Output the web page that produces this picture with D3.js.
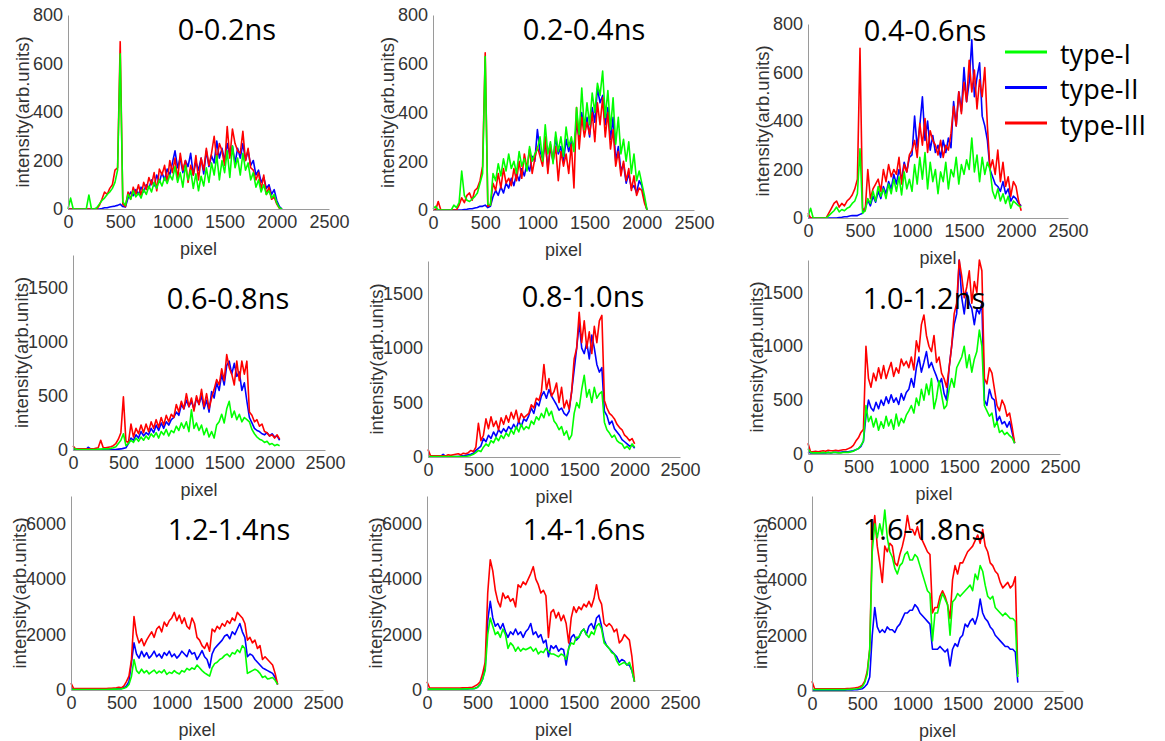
<!DOCTYPE html>
<html>
<head>
<meta charset="utf-8">
<script src="https://cdn.jsdelivr.net/npm/d3@7"></script>
<style>
  body { margin: 0; background: #fff; }
  .tick text { font-family: "Liberation Sans", Arial, sans-serif; font-size: 18px; fill: #333; }
  .domain { stroke: #9a9a9a; }
</style>
</head>
<body>
<div id="chart"></div>
<script>
// detector pixel grid (x values shared by every series)
const pixels = [0,25,50,75,100,125,150,175,200,225,250,275,300,325,350,375,400,425,450,475,
  500,525,550,575,600,625,650,675,700,725,750,775,800,825,850,875,900,925,950,975,
  1000,1025,1050,1075,1100,1125,1150,1175,1200,1225,1250,1275,1300,1325,1350,1375,1400,1425,1450,1475,
  1500,1525,1550,1575,1600,1625,1650,1675,1700,1725,1750,1775,1800,1825,1850,1875,1900,1925,1950,1975,
  2000,2025,2050];

const titles = ["0-0.2ns","0.2-0.4ns","0.4-0.6ns","0.6-0.8ns","0.8-1.0ns","1.0-1.2ns","1.2-1.4ns","1.4-1.6ns","1.6-1.8ns"];
const seriesNames = ["type-I","type-II","type-III"];
const seriesColors = ["#00ff00","#0000ff","#ff0000"];
const xTicks = [0,500,1000,1500,2000,2500];
const yTicksRow1 = [0,200,400,600,800];
const yTicksRow2 = [0,500,1000,1500];
const yTicksRow3 = [0,2000,4000,6000];
const yMaxRows = [800,1800,7000];

// 0-0.2ns
const p1I = [0,45,0,0,0,0,0,0,58,0, 0,5,20,35,45,60,70,85,110,160,
  640,30,15,60,40,75,50,65,45,80, 60,95,70,110,85,120,95,130,105,140,
  120,175,110,150,90,180,120,160,85,145, 75,135,95,170,110,190,140,220,120,200,
  150,240,130,260,170,210,140,230,160,190, 120,150,90,120,70,100,60,75,45,60, 25,5,0];
const p1II = [0,0,0,0,0,0,0,0,0,0, 0,0,0,2,5,5,8,10,12,15,
  20,10,8,45,70,55,80,60,90,70, 100,85,120,95,140,110,150,120,165,140,
  190,240,170,210,150,200,175,230,140,195, 160,210,145,240,175,220,190,280,210,250,
  200,270,220,260,190,250,210,270,200,240, 180,200,140,160,110,130,85,100,60,80, 35,10,0];
const p1III = [0,0,0,0,0,0,0,0,0,0, 0,0,15,40,70,60,85,100,160,170,
  690,20,10,70,40,90,60,100,55,110, 80,130,100,150,75,165,140,180,110,200,
  150,210,120,230,160,200,110,180,140,220, 120,210,160,250,180,230,300,200,270,240,
  180,340,210,330,270,240,230,320,200,250, 170,160,120,150,80,140,60,90,40,50, 20,3,0];

// 0.2-0.4ns
const p2I = [5,15,0,0,0,0,0,0,20,10, 30,160,60,40,35,45,55,70,110,150,
  630,25,20,150,120,190,140,210,160,230, 170,200,150,240,180,210,160,260,200,230,
  250,300,200,350,230,280,190,320,240,300, 220,340,260,300,240,420,310,500,330,440,
  350,480,400,520,470,570,380,490,330,460, 270,380,230,290,200,280,150,230,120,160, 110,60,0];
const p2II = [0,0,0,0,0,0,0,0,0,0, 0,0,2,3,5,5,8,10,15,15,
  20,10,15,55,80,60,95,70,110,90, 130,100,150,120,170,140,190,160,220,200,
  330,240,210,280,170,260,200,300,230,260, 200,290,240,280,260,350,300,400,330,380,
  300,420,360,500,440,470,350,420,290,380, 200,260,160,190,110,150,90,100,70,120, 100,40,0];
const p2III = [0,0,35,0,0,0,0,0,0,0, 20,50,30,60,70,40,80,90,120,180,
  645,15,20,110,80,150,90,170,110,130, 100,170,120,200,130,230,170,250,150,210,
  260,220,180,300,150,270,200,260,120,240, 180,230,150,270,90,420,250,380,300,360,
  310,400,280,440,350,460,300,400,250,330, 180,240,140,200,120,170,80,140,60,90, 80,30,0];

// 0.4-0.6ns
const p3I = [5,40,0,0,0,0,0,0,10,20, 30,45,25,35,30,40,45,60,70,100,
  285,20,30,80,60,110,70,130,90,120, 80,140,100,160,110,170,95,190,120,160,
  110,220,140,250,160,270,120,230,150,200, 100,190,150,230,120,200,170,250,140,220,
  180,240,200,330,190,260,150,250,180,230, 200,110,80,120,70,100,60,90,40,70, 60,50,45];
const p3II = [0,0,0,0,0,0,0,0,0,0, 0,0,2,3,5,5,8,10,10,10,
  15,20,40,75,50,90,65,110,80,130, 100,150,120,180,140,200,160,230,190,250,
  260,420,290,380,500,320,400,280,340,270, 300,250,320,270,330,290,480,380,520,440,
  620,480,560,735,500,580,640,420,380,320, 200,170,140,130,110,150,100,120,70,90, 80,60,50];
const p3III = [20,0,0,0,0,0,0,0,20,40, 60,70,45,60,50,70,80,95,120,160,
  700,40,30,200,80,120,140,160,110,200, 150,220,170,200,180,250,140,220,190,260,
  280,320,250,390,300,410,270,360,320,300, 260,320,250,300,280,350,460,380,520,430,
  560,480,650,520,610,450,570,500,620,380, 200,240,180,280,150,230,130,170,90,150, 130,70,30];

// 0.6-0.8ns
const p4I = [15,10,5,5,5,5,5,5,5,5, 8,8,10,10,10,15,20,30,60,90,
  150,40,60,90,70,110,80,120,90,130, 100,150,120,160,110,170,140,190,130,180,
  160,220,180,250,200,260,170,370,200,250, 180,230,140,200,120,170,110,230,260,330,
  250,380,450,300,360,280,330,260,300,280, 260,190,150,120,100,90,70,80,50,60, 40,50,40];
const p4II = [5,0,0,0,0,0,25,10,5,5, 5,5,5,5,5,5,5,5,8,10,
  15,20,60,110,90,140,110,170,130,160, 140,200,160,230,180,250,200,260,230,280,
  300,350,320,420,380,460,400,450,380,480, 420,500,380,460,350,540,480,620,550,700,
  600,780,820,700,800,680,720,550,620,450, 300,250,200,180,170,150,140,160,130,150, 120,130,90];
const p4III = [40,10,10,10,10,10,10,10,10,15, 20,90,20,20,25,30,40,60,100,160,
  490,80,70,240,120,200,150,230,160,240, 170,260,200,280,210,300,230,320,260,330,
  300,420,350,450,380,520,400,480,360,500, 420,560,400,520,380,480,560,650,600,750,
  640,880,760,700,600,820,640,820,700,820, 350,320,260,280,220,240,170,160,130,140, 110,140,100];

// 0.8-1.0ns
const p5I = [5,5,5,5,5,5,5,5,5,5, 5,5,5,5,5,5,10,15,25,40,
  60,50,90,120,100,150,130,180,150,200, 170,220,190,250,210,280,230,300,250,280,
  260,330,300,370,340,400,360,450,380,420, 330,300,250,280,200,240,160,200,400,500,
  450,620,750,550,620,500,640,540,580,600, 320,250,220,180,200,150,130,120,80,100, 70,120,90];
const p5II = [5,5,5,5,5,5,25,5,5,5, 5,5,5,10,10,15,20,25,35,60,
  80,100,170,140,200,170,230,190,250,220, 260,230,280,250,300,260,330,280,350,330,
  380,450,400,500,470,560,600,540,620,560, 520,480,430,450,400,380,420,600,800,1000,
  1230,1000,950,1050,900,1120,1000,850,780,820, 420,380,300,330,260,230,200,160,140,120, 100,110,80];
const p5III = [70,10,10,10,10,10,10,10,20,15, 20,25,30,20,35,30,40,60,50,90,
  310,150,200,350,260,370,280,330,250,360, 300,380,320,410,350,430,320,400,360,380,
  400,480,450,540,520,600,850,620,720,560, 600,680,500,640,450,520,440,600,900,1000,
  1330,1050,1250,1000,1150,950,1200,1050,1250,1300, 520,450,400,380,350,300,270,250,200,180, 150,170,120];

// 1.0-1.2ns
const p6I = [50,15,10,10,10,10,15,10,15,10, 15,15,10,10,15,15,15,20,25,40,
  50,80,120,450,300,350,250,330,220,300, 240,350,260,320,230,370,260,330,290,360,
  400,450,380,520,450,600,500,650,550,700, 420,520,680,550,420,450,600,700,620,800,
  850,900,1000,800,920,760,880,950,1150,1000, 450,400,350,380,250,300,200,220,180,200, 170,150,100];
const p6II = [20,10,10,10,10,10,10,10,15,10, 15,15,15,15,20,20,20,25,30,40,
  50,70,120,350,500,430,400,480,420,500, 450,530,470,550,480,520,460,560,500,570,
  600,700,620,800,900,760,850,950,800,850, 780,720,650,700,560,500,800,1000,1200,1300,
  1800,1450,1300,1500,1400,1350,1200,1350,1300,1400, 500,450,600,520,500,300,350,280,300,250, 300,200,100];
const p6III = [100,20,20,25,20,25,30,25,35,30, 30,35,30,35,40,40,50,60,80,120,
  150,200,230,1000,700,620,750,680,800,700, 820,700,780,850,720,800,750,880,820,860,
  800,900,780,1050,950,1200,1290,1100,1000,950, 1100,850,900,750,700,620,800,1000,1300,1400,
  1800,1650,1450,1550,1700,1400,1600,1500,1800,1700, 700,650,800,750,600,450,400,500,450,350, 380,250,100];

// 1.2-1.4ns
const p7I = [30,20,20,20,20,20,20,20,20,20, 20,20,20,20,20,25,25,30,30,35,
  40,60,100,200,500,1100,700,600,750,620, 700,580,650,720,600,680,620,730,560,640,
  600,700,620,580,700,650,780,720,800,750, 900,800,700,620,560,500,800,950,1000,1100,
  1150,1250,1300,1200,1350,1300,1450,1350,1600,1500, 600,650,700,750,700,600,450,500,400,420, 450,350,200];
const p7II = [40,30,30,30,30,30,30,30,30,30, 30,30,30,30,35,35,40,40,45,50,
  50,80,150,300,1000,1700,1300,1150,1400,1200, 1350,1150,1250,1400,1200,1300,1150,1350,1250,1400,
  1200,1300,1150,1250,1400,1300,1200,1450,1300,1350, 1100,1250,1420,1200,1100,800,1300,1500,1600,1700,
  1800,1950,2000,1850,2100,2000,2200,2400,2100,1900, 1200,1300,1250,1100,1000,900,800,750,700,650, 600,450,200];
const p7III = [250,60,50,50,50,50,50,50,50,50, 50,50,50,50,55,60,60,70,80,100,
  80,150,300,500,1100,2650,2000,1700,1850,1600, 1800,1950,2100,1900,2200,2300,2100,2450,2300,2500,
  2600,2800,2500,2700,2400,2600,2300,2200,2600,2400, 1900,1800,1600,1500,1700,1400,2200,2100,2300,2200,
  2400,2300,2500,2400,2600,2500,2800,2700,2600,2400, 1800,1900,1700,1800,1500,1600,1100,1200,1100,1000, 900,600,200];

// 1.4-1.6ns
const p8I = [40,30,30,30,30,30,30,30,30,30, 30,30,30,30,35,40,40,45,50,60,
  100,200,400,700,2000,2600,2300,2000,2100,1900, 2200,2000,1500,1700,1600,1400,1550,1400,1500,1450,
  1500,1550,1400,1500,1300,1400,1350,1500,1400,1300, 1300,1250,1200,1300,1250,1100,1500,1700,1650,1900,
  1900,2100,2200,2000,1900,2100,2000,2300,2400,2200, 1700,1600,1500,1350,1300,1050,900,950,1000,900, 1000,700,300];
const p8II = [40,30,30,30,30,30,30,30,30,30, 30,30,30,30,35,40,40,45,50,60,
  100,200,400,800,2500,3200,2600,2300,2400,2200, 2400,2100,1900,2100,2000,2200,2000,2100,1900,2100,
  2200,2400,2000,2100,1900,2000,1700,1800,1200,1600, 1500,1600,1400,1500,1450,900,1500,1900,2000,1800,
  1900,2100,2200,2000,2300,2400,2200,2600,2700,2300, 1800,1600,1500,1400,1300,1200,1000,1100,1050,900, 900,700,300];
const p8III = [300,80,70,70,70,70,70,70,70,70, 70,70,70,70,75,80,80,90,100,150,
  200,300,600,1000,3500,4700,4300,3600,3200,3000, 3500,3300,3400,3200,3300,3000,3800,3700,3900,3800,
  4000,4200,4450,4000,3800,3500,3600,3400,1900,2800, 2900,2600,2800,2500,2700,2400,1700,2600,3000,2800,
  3000,2900,3100,3000,3200,3000,3300,3800,3300,3100, 2400,2300,2400,2300,2100,2200,1700,1800,2000,1900, 1800,1200,300];

// 1.6-1.8ns
const p9I = [60,50,50,50,50,50,50,50,50,50, 50,50,50,50,55,60,60,70,80,100,
  150,300,600,1500,5000,6000,5500,6000,5600,6500, 5500,5000,4800,4400,4200,4500,4600,4900,5000,4700,
  4700,4900,4800,4500,4200,3900,3600,3500,1800,2800, 2800,3200,3500,3300,3100,2000,3200,3300,3500,3400,
  3500,3600,3700,3800,3600,4200,4000,4500,4300,3800, 3400,3300,3400,3000,2900,2800,2700,2800,2700,2600, 2600,2500,500];
const p9II = [40,30,30,30,30,30,30,30,30,30, 30,30,30,30,35,40,40,45,50,60,
  80,150,250,500,2000,3000,2300,2100,2200,2100, 2300,2200,2200,2100,2300,2400,2600,2800,2800,2900,
  2900,3100,3000,2800,2700,2600,2500,2400,1500,1500, 1500,1600,1500,1400,1500,900,1500,1700,1600,1900,
  2000,2400,2300,2500,2600,2400,2700,3300,2800,2600, 2500,2300,2200,2000,1900,1800,1700,1600,1600,1500, 1500,1400,300];
const p9III = [350,90,80,80,80,80,80,80,80,80, 80,80,80,80,85,90,100,110,120,150,
  200,350,700,1500,5500,6300,5200,4600,3900,5200, 5000,5300,5200,4600,4500,4900,5200,5600,6300,5800,
  5800,5600,5900,5500,5400,5200,5000,4900,2800,3000, 3000,3400,3600,3400,3100,2600,4000,4500,4200,4600,
  4600,4800,5000,5100,5200,5400,5600,5300,5800,5200, 5000,4600,4500,4300,4200,3900,3700,3800,3900,3700, 3800,4100,600];

const panelSeries = [
  [p1I, p1II, p1III], [p2I, p2II, p2III], [p3I, p3II, p3III],
  [p4I, p4II, p4III], [p5I, p5II, p5III], [p6I, p6II, p6III],
  [p7I, p7II, p7III], [p8I, p8II, p8III], [p9I, p9II, p9III]
];
const rowTicks = [yTicksRow1, yTicksRow2, yTicksRow3];

// axes boxes in page pixels: left/right = x 0..2500, bottom/top = y 0..yMax
const boxes = [
  {left: 68,  right: 329,  bottom: 209, top: 15,  tx: 227, ty: 28},
  {left: 433, right: 694,  bottom: 210, top: 15,  tx: 584, ty: 28},
  {left: 808, right: 1068, bottom: 218, top: 24,  tx: 925, ty: 29},
  {left: 73,  right: 325,  bottom: 450, top: 255, tx: 228, ty: 297},
  {left: 428, right: 680,  bottom: 457, top: 261, tx: 583, ty: 295},
  {left: 808, right: 1060, bottom: 454, top: 260, tx: 924, ty: 297},
  {left: 71,  right: 323,  bottom: 690, top: 496, tx: 229, ty: 528},
  {left: 427, right: 680,  bottom: 690, top: 496, tx: 584, ty: 528},
  {left: 812, right: 1063, bottom: 691, top: 496, tx: 924, ty: 528}
];

const svg = d3.select("#chart").append("svg")
  .attr("width", 1165)
  .attr("height", 741);

const drawOrder = [1, 2, 0]; // blue, red, then green on top
const labelFont = '"Liberation Sans", Arial, sans-serif';

boxes.forEach((b, i) => {
  const row = Math.floor(i / 3);
  const x = d3.scaleLinear().domain([0, 2500]).range([b.left, b.right]);
  const y = d3.scaleLinear().domain([0, yMaxRows[row]]).range([b.bottom, b.top]);
  const g = svg.append("g");

  const line = d3.line()
    .x((d, k) => x(pixels[k]))
    .y(d => y(d));

  drawOrder.forEach(s => {
    g.append("path")
      .datum(panelSeries[i][s])
      .attr("d", line)
      .attr("fill", "none")
      .attr("stroke", seriesColors[s])
      .attr("stroke-width", 1.6)
      .attr("stroke-linejoin", "round");
  });

  g.append("g")
    .attr("transform", `translate(0,${b.bottom})`)
    .call(d3.axisBottom(x).tickValues(xTicks).tickFormat(d3.format("d")).tickSize(0).tickPadding(6));

  g.append("g")
    .attr("transform", `translate(${b.left},0)`)
    .call(d3.axisLeft(y).tickValues(rowTicks[row]).tickFormat(d3.format("d")).tickSize(0).tickPadding(5));

  g.append("text")
    .attr("x", (b.left + b.right) / 2)
    .attr("y", b.bottom + 40)
    .attr("text-anchor", "middle")
    .attr("dominant-baseline", "central")
    .style("font-family", labelFont)
    .style("font-size", "18px")
    .style("fill", "#333")
    .text("pixel");

  const off = row === 0 ? 46 : 52;
  g.append("text")
    .attr("transform", `translate(${b.left - off},${(b.top + b.bottom) / 2}) rotate(-90)`)
    .attr("text-anchor", "middle")
    .attr("dominant-baseline", "central")
    .style("font-family", labelFont)
    .style("font-size", "18.5px")
    .style("fill", "#333")
    .text("intensity(arb.units)");

  g.append("text")
    .attr("x", b.tx)
    .attr("y", b.ty)
    .attr("text-anchor", "middle")
    .attr("dominant-baseline", "central")
    .style("font-family", '"Open Sans", sans-serif')
    .style("font-size", "29px")
    .style("fill", "#000")
    .text(titles[i]);
});

// legend
const legend = svg.append("g");
seriesNames.forEach((name, s) => {
  const ly = 52 + s * 35.5;
  legend.append("line")
    .attr("x1", 1005).attr("x2", 1047)
    .attr("y1", ly).attr("y2", ly)
    .attr("stroke", seriesColors[s])
    .attr("stroke-width", 3);
  legend.append("text")
    .attr("x", 1060)
    .attr("y", ly + 1)
    .attr("dominant-baseline", "central")
    .style("font-family", '"Open Sans", sans-serif')
    .style("font-size", "27px")
    .style("fill", "#000")
    .text(name);
});
</script>
</body>
</html>
